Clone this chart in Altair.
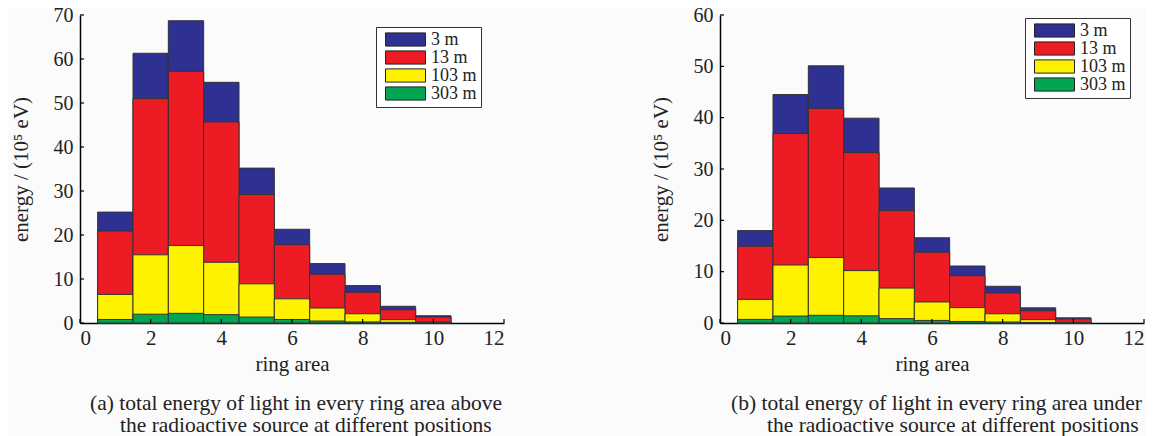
import altair as alt
import pandas as pd

rings = [1, 2, 3, 4, 5, 6, 7, 8, 9, 10]
series = ["3 m", "13 m", "103 m", "303 m"]
colors = ["#2e3192", "#ed1c24", "#fff200", "#00a651"]

a_3m = [25.2, 61.3, 68.7, 54.7, 35.2, 21.3, 13.5, 8.5, 3.8, 1.65]
a_13m = [20.9, 51.0, 57.2, 45.7, 29.2, 17.8, 11.1, 7.0, 3.0, 1.35]
a_103m = [6.5, 15.5, 17.6, 13.8, 8.9, 5.5, 3.4, 2.1, 0.75, 0.2]
a_303m = [0.8, 2.0, 2.2, 1.9, 1.35, 0.8, 0.45, 0.25, 0.15, 0.08]

b_3m = [18.0, 44.5, 50.1, 39.9, 26.3, 16.6, 11.1, 7.15, 2.95, 1.0]
b_13m = [14.95, 36.9, 41.8, 33.2, 21.9, 13.8, 9.2, 5.85, 2.4, 0.8]
b_103m = [4.6, 11.3, 12.75, 10.2, 6.8, 4.1, 3.0, 1.8, 0.65, 0.1]
b_303m = [0.7, 1.35, 1.5, 1.4, 0.85, 0.5, 0.3, 0.2, 0.1, 0.05]

x_ticks = [0, 2, 4, 6, 8, 10, 12]
y_ticks_a = [0, 10, 20, 30, 40, 50, 60, 70]
y_ticks_b = [0, 10, 20, 30, 40, 50, 60]

x_title = "ring area"
y_title = "energy / (10⁵ eV)"
cap_a = ["(a) total energy of light in every ring area above",
         "the radioactive source at different positions"]
cap_b = ["(b) total energy of light in every ring area under",
         "the radioactive source at different positions"]

FONT = "Liberation Serif"
FS = 21
CFS = 21.5
W, H = 424, 308


def make_df(vals_list):
    rows = []
    for i, (s, vals) in enumerate(zip(series, vals_list)):
        for r, v in zip(rings, vals):
            rows.append({"ring": r, "series": s, "idx": i, "energy": v})
    return pd.DataFrame(rows)


def panel(df, ymax, yticks, caps, legx, legy, capx):
    xs = alt.Scale(domain=[0, 12], nice=False, zero=False)
    ys = alt.Scale(domain=[0, ymax], nice=False)
    xax = alt.Axis(values=x_ticks, title=x_title, ticks=False,
                   labelPadding=4, titlePadding=5, format="d")
    yax = alt.Axis(values=yticks, title=y_title, ticks=False, labelFontSize=20,
                   labelPadding=7, titlePadding=22, format="d")
    bars = alt.Chart(df).transform_calculate(
        x0="datum.ring - 0.5", x1="datum.ring + 0.5"
    ).mark_bar(stroke="#333333", strokeWidth=1, opacity=1).encode(
        x=alt.X("x0:Q", scale=xs, axis=xax),
        x2="x1:Q",
        y=alt.Y("energy:Q", scale=ys, stack=None, axis=yax),
        y2=alt.datum(0),
        color=alt.Color("series:N", scale=alt.Scale(domain=series, range=colors),
                        legend=alt.Legend(
                            title=None, orient="none", legendX=legx, legendY=legy,
                            symbolType="M-1,-0.33L1,-0.33L1,0.33L-1,0.33Z",
                            symbolSize=1600, symbolStrokeColor="#222222",
                            symbolStrokeWidth=1, symbolOpacity=1,
                            clipHeight=17, rowPadding=-1,
                            labelFont=FONT, labelFontSize=18, labelColor="#222222",
                            labelOffset=5, symbolOffset=5, padding=4,
                            strokeColor="#333333", fillColor="white")),
        order=alt.Order("idx:Q", sort="ascending"),
    )
    ytk = alt.Chart(pd.DataFrame({"v": yticks})).mark_rule(
        color="black", strokeWidth=1.2).encode(
        y=alt.Y("v:Q", scale=ys, axis=yax), x=alt.value(0), x2=alt.value(4))
    xtk = alt.Chart(pd.DataFrame({"v": x_ticks})).mark_rule(
        color="black", strokeWidth=1.2).encode(
        x=alt.X("v:Q", scale=xs, axis=xax), y=alt.value(H), y2=alt.value(H - 4))
    c1 = alt.Chart(pd.DataFrame({"t": [caps[0]]})).mark_text(
        align="left", baseline="middle", font=FONT, fontSize=CFS, color="#222222").encode(
        x=alt.value(capx[0]), y=alt.value(H + 80.5), text="t:N")
    c2 = alt.Chart(pd.DataFrame({"t": [caps[1]]})).mark_text(
        align="left", baseline="middle", font=FONT, fontSize=CFS, color="#222222").encode(
        x=alt.value(capx[1]), y=alt.value(H + 102.5), text="t:N")
    return alt.layer(bars, xtk, ytk, c1, c2).properties(width=W, height=H)


left = panel(make_df([a_3m, a_13m, a_103m, a_303m]), 70, y_ticks_a, cap_a, 296, 12, (10, 40))
right = panel(make_df([b_3m, b_13m, b_103m, b_303m]), 60, y_ticks_b, cap_b, 305, 3, (11, 47))

chart = alt.hconcat(left, right, spacing=145).resolve_scale(
    color="independent", x="independent", y="independent"
).properties(
    padding={"left": 2, "top": -3, "right": 0, "bottom": 0},
    background="#fbfbfb",
).configure_view(stroke=None).configure_axis(
    domainColor="black", domainWidth=1.5, grid=False,
    labelFont=FONT, labelFontSize=FS, labelColor="#222222",
    titleFont=FONT, titleFontSize=FS, titleFontWeight="normal", titleColor="#222222",
)

chart.save("out.html", embed_options={"renderer": "svg", "actions": False})
